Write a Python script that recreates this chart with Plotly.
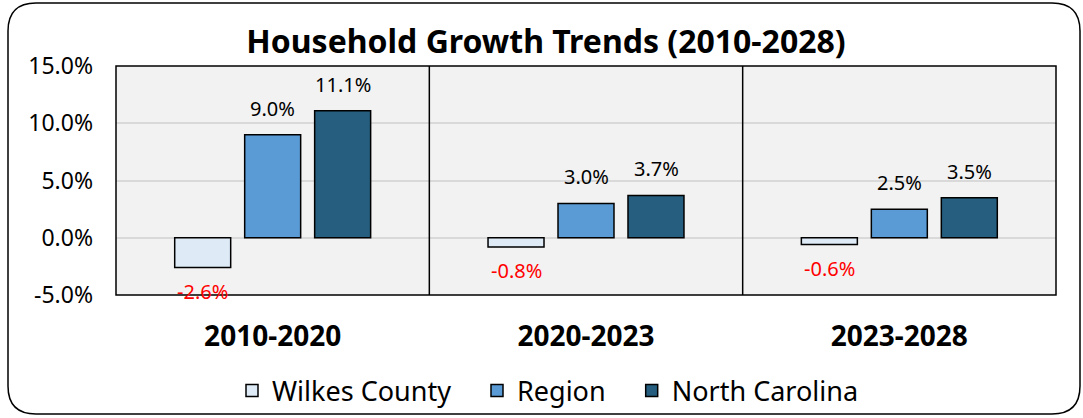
import plotly.graph_objects as go

periods = ["2010-2020", "2020-2023", "2023-2028"]
wilkes = [-2.6, -0.8, -0.6]
region = [9.0, 3.0, 2.5]
north_carolina = [11.1, 3.7, 3.5]
y_ticks = [-5, 0, 5, 10, 15]

series = [
    ("Wilkes County", wilkes, "#DEEBF7"),
    ("Region", region, "#5B9BD5"),
    ("North Carolina", north_carolina, "#255E7E"),
]

W, H = 1083, 418
L, R, T, B = 116, 27, 66, 123
pw, ph = W - L - R, H - T - B
slot = 70  # px between bar centres within a group


def px_to_paper(x, y):
    return (x - L) / pw, (H - B - y) / ph


def rounded_rect(x0, y0, x1, y1, r):
    def p(x, y):
        a, b = px_to_paper(x, y)
        return f"{a:.5f},{b:.5f}"
    return (f"M {p(x0 + r, y0)} L {p(x1 - r, y0)} Q {p(x1, y0)} {p(x1, y0 + r)} "
            f"L {p(x1, y1 - r)} Q {p(x1, y1)} {p(x1 - r, y1)} "
            f"L {p(x0 + r, y1)} Q {p(x0, y1)} {p(x0, y1 - r)} "
            f"L {p(x0, y0 + r)} Q {p(x0, y0)} {p(x0 + r, y0)} Z")


fig = go.Figure()
pad = "\u00a0" * 3
annotations = []
for i, (name, vals, color) in enumerate(series):
    fig.add_trace(go.Bar(
        x=periods, y=vals, name=name + (pad if i < 2 else ""),
        marker=dict(color=color, line=dict(color="black", width=1.5)),
    ))
    for p, v in zip(periods, vals):
        annotations.append(dict(
            x=p, y=v, xref="x", yref="y", text=f"{v:.1f}%", showarrow=False,
            xshift=(i - 1) * slot, yshift=11 if v >= 0 else -8,
            yanchor="bottom" if v >= 0 else "top",
            font=dict(size=20, color="black" if v >= 0 else "red"),
        ))

shapes = [
    dict(type="line", xref="x", yref="paper", x0=0.5, x1=0.5, y0=0, y1=1,
         line=dict(color="black", width=1.5)),
    dict(type="line", xref="x", yref="paper", x0=1.5, x1=1.5, y0=0, y1=1,
         line=dict(color="black", width=1.5)),
    dict(type="rect", xref="paper", yref="paper", x0=0, x1=1, y0=0, y1=1,
         line=dict(color="black", width=1.5)),
    dict(type="path", xref="paper", yref="paper", path=rounded_rect(8, 3, 1080, 414, 28),
         line=dict(color="black", width=1.5), layer="below"),
]

fig.update_layout(
    width=W, height=H,
    margin=dict(l=L, r=R, t=T, b=B, autoexpand=False),
    paper_bgcolor="white",
    plot_bgcolor="#F2F2F2",
    font=dict(family="Noto Sans", color="black"),
    title=dict(text="<b>Household Growth Trends (2010-2028)</b>", x=546 / W, xanchor="center",
               xref="container", y=1 - 42 / H, yanchor="middle", font=dict(size=32)),
    barmode="group", bargap=0.33, bargroupgap=0.2,
    showlegend=True,
    legend=dict(orientation="h", x=(232 - L) / pw, xanchor="left", y=(H - B - 391) / ph,
                yanchor="middle", font=dict(size=27), itemwidth=30, traceorder="normal",
                bgcolor="rgba(0,0,0,0)"),
    shapes=shapes,
    annotations=annotations,
)
fig.update_xaxes(tickfont=dict(size=28, family="Noto Sans"), ticklabelstandoff=22,
                 tickprefix="<b>", ticksuffix="</b>", showline=False, automargin=False)
fig.update_yaxes(range=[-5, 15], tickvals=y_ticks, ticktext=[f"{t:.1f}%" for t in y_ticks],
                 tickfont=dict(size=23), showgrid=True, gridcolor="#D9D9D9", gridwidth=1.5,
                 zeroline=True, zerolinecolor="#D9D9D9", zerolinewidth=1.5,
                 ticklabelstandoff=22, automargin=False)

fig.write_html("out.html", config={"displayModeBar": False},
               post_script="document.body.style.margin='0';")
